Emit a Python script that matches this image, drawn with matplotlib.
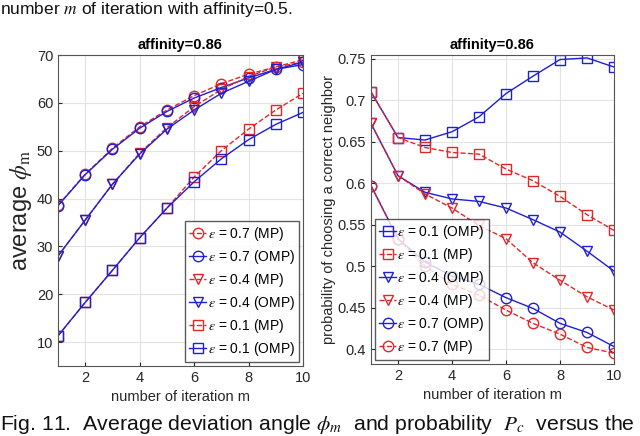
import numpy as np
import matplotlib
matplotlib.use("Agg")
import matplotlib.pyplot as plt

plt.rcParams["font.family"] = ["Liberation Sans", "DejaVu Sans"]
plt.rcParams["mathtext.fontset"] = "stix"

# iteration index
m = np.arange(1, 11)

# left panel: average deviation angle phi_m
phi_07_mp = [38.6, 45.1, 50.5, 55.0, 58.5, 61.5, 64.0, 66.0, 67.5, 68.5]
phi_07_omp = [38.5, 45.0, 50.3, 54.7, 58.2, 61.0, 63.2, 65.2, 67.0, 68.0]
phi_04_mp = [28.0, 35.5, 43.0, 49.5, 54.8, 59.2, 62.8, 65.5, 67.5, 69.0]
phi_04_omp = [28.0, 35.5, 43.0, 49.3, 54.5, 58.5, 62.0, 64.5, 67.0, 68.5]
phi_01_mp = [11.3, 18.3, 25.0, 31.8, 38.0, 44.5, 50.0, 54.5, 58.5, 62.0]
phi_01_omp = [11.3, 18.3, 25.0, 31.8, 38.0, 43.5, 48.3, 52.3, 55.5, 58.0]

# right panel: probability of choosing a correct neighbor
p_01_omp = [0.710, 0.655, 0.652, 0.662, 0.680, 0.708, 0.729, 0.749, 0.751, 0.740]
p_01_mp = [0.710, 0.655, 0.643, 0.637, 0.635, 0.617, 0.603, 0.584, 0.562, 0.543]
p_04_omp = [0.672, 0.609, 0.589, 0.581, 0.578, 0.570, 0.556, 0.541, 0.518, 0.494]
p_04_mp = [0.672, 0.609, 0.587, 0.570, 0.549, 0.533, 0.504, 0.483, 0.463, 0.447]
p_07_omp = [0.597, 0.533, 0.505, 0.488, 0.478, 0.462, 0.449, 0.431, 0.420, 0.403]
p_07_mp = [0.597, 0.533, 0.500, 0.478, 0.465, 0.447, 0.431, 0.418, 0.402, 0.395]

blue = "#1f1fd6"
red = "#e0282a"
txt = "#262626"

fig = plt.figure(figsize=(6.4, 4.36), dpi=100)

def style(ax):
    ax.grid(True, color="#e3e3e3", linewidth=0.8)
    ax.set_axisbelow(True)
    for s in ax.spines.values():
        s.set_color("#555555")
        s.set_linewidth(0.8)
    ax.tick_params(colors=txt, labelsize=10.5, direction="in", length=3)
    ax.set_xticks([2, 4, 6, 8, 10])
    ax.set_xlim(1, 10)
    ax.set_title("affinity=0.86", fontsize=10.5, fontweight="bold", pad=4)
    ax.set_xlabel("number of iteration m", fontsize=10.5, color=txt)

def draw(ax, y, color, marker, ls, label):
    ax.plot(m, y, color=color, linestyle=ls, marker=marker, markersize=7.5,
            markerfacecolor="none", markeredgewidth=1.0, linewidth=1.0, label=label)

def legend(ax, loc):
    ax.legend(loc=loc, fontsize=10, frameon=True, fancybox=False,
              edgecolor="#333333", handlelength=1.2, handletextpad=0.1,
              borderpad=0.3, labelspacing=0.35, borderaxespad=0.3)

# left panel
ax1 = fig.add_axes([58/640, 1-366/436, 245/640, 311/436])
draw(ax1, phi_07_mp, red, "o", "--", r"$\epsilon$ = 0.7 (MP)")
draw(ax1, phi_07_omp, blue, "o", "-", r"$\epsilon$ = 0.7 (OMP)")
draw(ax1, phi_04_mp, red, "v", "--", r"$\epsilon$ = 0.4 (MP)")
draw(ax1, phi_04_omp, blue, "v", "-", r"$\epsilon$ = 0.4 (OMP)")
draw(ax1, phi_01_mp, red, "s", "--", r"$\epsilon$ = 0.1 (MP)")
draw(ax1, phi_01_omp, blue, "s", "-", r"$\epsilon$ = 0.1 (OMP)")
style(ax1)
ax1.set_ylim(5, 70)
ax1.set_yticks([10, 20, 30, 40, 50, 60, 70])
ax1.set_ylabel(r"average $\phi_{\rm m}$", fontsize=17, color=txt, labelpad=2)
legend(ax1, "lower right")

# right panel
ax2 = fig.add_axes([371/640, 1-364/436, 243/640, 309/436])
draw(ax2, p_01_omp, blue, "s", "-", r"$\epsilon$ = 0.1 (OMP)")
draw(ax2, p_01_mp, red, "s", "--", r"$\epsilon$ = 0.1 (MP)")
draw(ax2, p_04_omp, blue, "v", "-", r"$\epsilon$ = 0.4 (OMP)")
draw(ax2, p_04_mp, red, "v", "--", r"$\epsilon$ = 0.4 (MP)")
draw(ax2, p_07_omp, blue, "o", "-", r"$\epsilon$ = 0.7 (OMP)")
draw(ax2, p_07_mp, red, "o", "--", r"$\epsilon$ = 0.7 (MP)")
style(ax2)
ax2.set_ylim(0.382, 0.7545)
ax2.set_yticks([0.4, 0.45, 0.5, 0.55, 0.6, 0.65, 0.7, 0.75])
ax2.set_yticklabels(["0.4", "0.45", "0.5", "0.55", "0.6", "0.65", "0.7", "0.75"])
ax2.set_ylabel("probability of choosing a correct neighbor", fontsize=10.5, color=txt, labelpad=1)
legend(ax2, "lower left")

# caption fragments from the page
fig.text(0.0, 1.0, r"number $m$ of iteration with affinity=0.5.", fontsize=12.5,
         ha="left", va="top", color="#111111")
fig.text(0.0, 0.0, r"Fig. 11.  Average deviation angle $\phi_m$  and probability  $P_c$  versus the",
         fontsize=15.3, ha="left", va="bottom", color="#111111")

fig.savefig("out.png", dpi=100)
